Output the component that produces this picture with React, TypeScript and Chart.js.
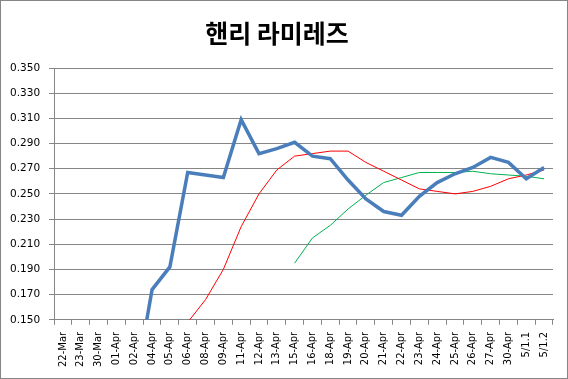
import React, { useEffect, useRef } from "react";
import { Chart, registerables } from "chart.js";

Chart.register(...registerables);

const TITLE = "핸리 라미레즈";

const categories = [
  "22-Mar", "23-Mar", "30-Mar", "01-Apr", "02-Apr", "04-Apr", "05-Apr",
  "06-Apr", "08-Apr", "09-Apr", "11-Apr", "12-Apr", "13-Apr", "15-Apr",
  "16-Apr", "18-Apr", "19-Apr", "20-Apr", "21-Apr", "22-Apr", "23-Apr",
  "24-Apr", "25-Apr", "26-Apr", "27-Apr", "30-Apr", "5/1.1", "5/1.2",
];

const seriesBlue = [
  0.0, 0.1, 0.083, 0.091, 0.093, 0.174, 0.192,
  0.267, 0.265, 0.263, 0.309, 0.282, 0.286, 0.291,
  0.28, 0.278, 0.261, 0.246, 0.236, 0.233, 0.248,
  0.259, 0.266, 0.271, 0.279, 0.275, 0.262, 0.271,
];

const seriesRed = [
  null, null, null, null, null, null, null,
  0.148, 0.166, 0.19, 0.224, 0.25, 0.269, 0.28,
  0.282, 0.284, 0.284, 0.275, 0.268, 0.261, 0.254,
  0.252, 0.25, 0.252, 0.256, 0.262, 0.265, 0.269,
];

const seriesGreen = [
  null, null, null, null, null, null, null,
  null, null, null, null, null, null, 0.195,
  0.215, 0.225, 0.238, 0.249, 0.259, 0.263, 0.267,
  0.267, 0.267, 0.268, 0.266, 0.265, 0.264, 0.262,
];

const yMin = 0.15;
const yMax = 0.35;
const yStep = 0.02;

export default function App() {
  const ref = useRef<HTMLCanvasElement | null>(null);

  useEffect(() => {
    if (!ref.current) return;
    const gridColor = "#868686";
    const chart = new Chart(ref.current, {
      type: "line",
      data: {
        labels: categories,
        datasets: [
          {
            label: "A",
            data: seriesBlue,
            borderColor: "#4A7EBB",
            borderWidth: 3.5,
            pointRadius: 0,
            tension: 0,
            order: 0,
          },
          {
            label: "B",
            data: seriesRed,
            borderColor: "#FF0000",
            borderWidth: 1,
            pointRadius: 0,
            tension: 0,
            order: 1,
          },
          {
            label: "C",
            data: seriesGreen,
            borderColor: "#00B050",
            borderWidth: 1,
            pointRadius: 0,
            tension: 0,
            order: 2,
          },
        ],
      },
      options: {
        animation: false,
        responsive: true,
        maintainAspectRatio: false,
        layout: { padding: { left: 0, right: 14, top: 0, bottom: 4 } },
        plugins: {
          legend: { display: false },
          tooltip: { enabled: false },
          title: {
            display: true,
            text: TITLE,
            color: "#000",
            font: { family: "'Noto Sans CJK KR'", size: 25, weight: "bold" },
            padding: { top: 17, bottom: 20 },
          },
        },
        scales: {
          x: {
            offset: true,
            grid: {
              offset: true,
              drawOnChartArea: false,
              drawTicks: true,
              tickLength: 5,
              color: gridColor,
            },
            border: { color: gridColor },
            ticks: {
              autoSkip: false,
              minRotation: 90,
              maxRotation: 90,
              padding: 7,
              color: "#000",
              font: { family: "'DejaVu Sans'", size: 10 },
            },
          },
          y: {
            min: yMin,
            max: yMax,
            grid: { color: gridColor, tickLength: 5 },
            border: { color: gridColor },
            ticks: {
              stepSize: yStep,
              padding: 9,
              color: "#000",
              font: { family: "'DejaVu Sans'", size: 10.5 },
              callback: (v: any) => Number(v).toFixed(3),
            },
          },
        },
      },
    });
    return () => chart.destroy();
  }, []);

  return (
    <div
      style={{
        position: "absolute",
        left: 0,
        top: 0,
        width: 568,
        height: 379,
        border: "1px solid #868686",
        boxSizing: "border-box",
        background: "#fff",
      }}
    >
      <div style={{ position: "relative", width: 566, height: 377 }}>
        <canvas ref={ref} />
      </div>
    </div>
  );
}
